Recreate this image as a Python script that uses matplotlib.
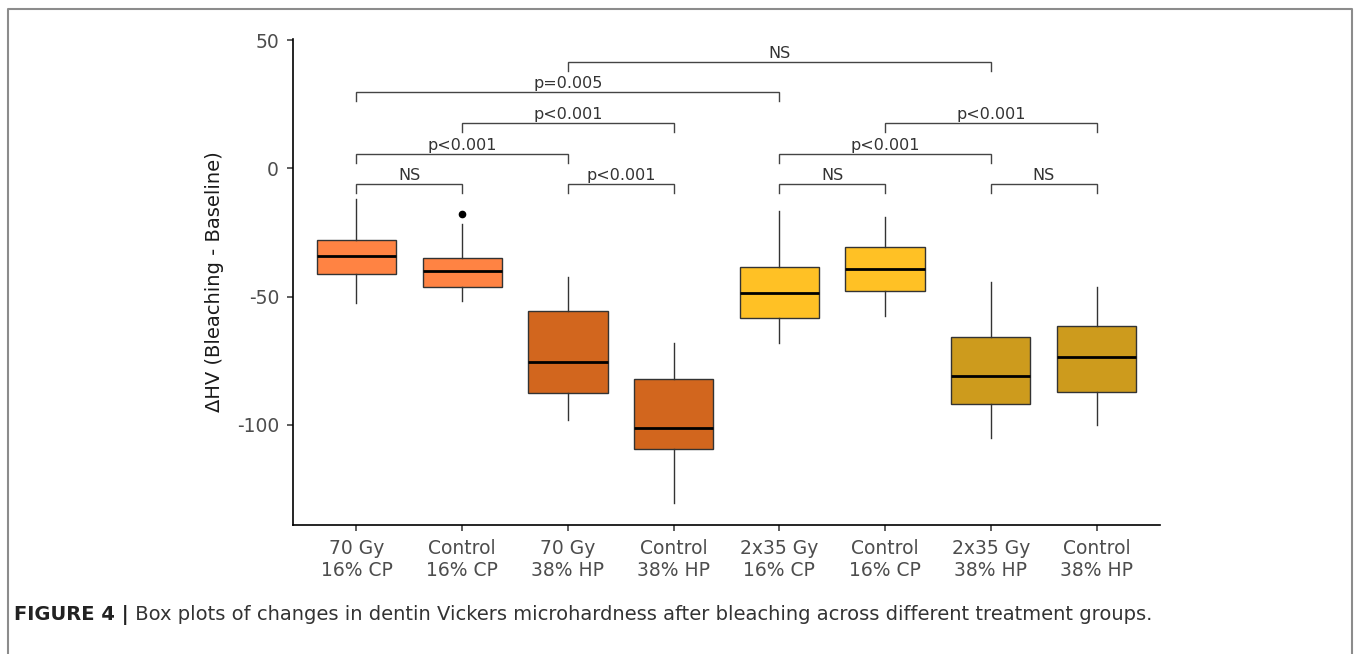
import matplotlib
matplotlib.use("Agg")
import matplotlib.pyplot as plt
from matplotlib.lines import Line2D

# group labels and box colours
groups = ["70 Gy\n16% CP", "Control\n16% CP", "70 Gy\n38% HP", "Control\n38% HP",
          "2x35 Gy\n16% CP", "Control\n16% CP", "2x35 Gy\n38% HP", "Control\n38% HP"]
colors = ["#FF8343", "#D2661E", "#FFC125", "#CD9B1D"]
box_colors = [colors[0], colors[0], colors[1], colors[1], colors[2], colors[2], colors[3], colors[3]]

# five-number summaries
whis_hi = [-12.1, -21.8, -42.5, -68.2, -16.8, -19.1, -44.4, -46.4]
q3 = [-28.0, -35.0, -55.7, -82.2, -38.6, -30.8, -65.9, -61.6]
median = [-34.0, -40.1, -75.6, -101.3, -48.7, -39.4, -81.1, -73.6]
q1 = [-41.3, -46.4, -87.7, -109.5, -58.5, -47.9, -92.0, -87.3]
whis_lo = [-52.6, -51.8, -98.2, -130.6, -68.2, -57.7, -105.2, -100.2]
outliers = [[], [-17.9], [], [], [], [], [], []]

# significance brackets: (left group, right group, level, label)
br_left = [1, 3, 5, 7, 1, 5, 2, 6, 1, 3]
br_right = [2, 4, 6, 8, 3, 7, 4, 8, 5, 7]
br_level = [-6.2, -6.2, -6.2, -6.2, 5.5, 5.5, 17.5, 17.5, 29.6, 41.3]
br_text = ["NS", "p<0.001", "NS", "NS", "p<0.001", "p<0.001", "p<0.001", "p<0.001", "p=0.005", "NS"]

caption_bold = "FIGURE 4 |"
caption_rest = " Box plots of changes in dentin Vickers microhardness after bleaching across different treatment groups."

plt.rcParams['font.family'] = ['DejaVu Sans']

fig = plt.figure(figsize=(13.57, 6.54), dpi=100)
ax = fig.add_axes([293 / 1357, 1 - 525 / 654, 867 / 1357, 486 / 654])

stats = []
for i in range(len(groups)):
    stats.append(dict(med=median[i], q1=q1[i], q3=q3[i], whislo=whis_lo[i],
                      whishi=whis_hi[i], fliers=outliers[i]))

pos = list(range(1, len(groups) + 1))
bp = ax.bxp(stats, positions=pos, widths=0.75, patch_artist=True, showcaps=False,
            boxprops=dict(edgecolor="#333333", linewidth=1.0),
            whiskerprops=dict(color="#333333", linewidth=1.0),
            medianprops=dict(color="black", linewidth=2.0),
            flierprops=dict(marker="o", markerfacecolor="black", markeredgecolor="black",
                            markersize=4.5))
for patch, c in zip(bp["boxes"], box_colors):
    patch.set_facecolor(c)

# brackets
tick_drop = 3.5
for l, r, y, t in zip(br_left, br_right, br_level, br_text):
    ax.plot([l, l, r, r], [y - tick_drop, y, y, y - tick_drop], color="#444444",
            linewidth=1.0, solid_joinstyle="miter")
    ax.text((l + r) / 2, y + 0.6, t, ha="center", va="bottom", fontsize=11.5, color="#333333")

ax.set_xlim(0.4, 8.6)
ax.set_ylim(-139, 50.4)
ax.set_yticks([50, 0, -50, -100])
ax.set_yticklabels(["50", "0", "-50", "-100"])
ax.set_xticks(pos)
ax.set_xticklabels(groups)
ax.spines["top"].set_visible(False)
ax.spines["right"].set_visible(False)
for s in ["left", "bottom"]:
    ax.spines[s].set_linewidth(1.2)
    ax.spines[s].set_color("black")
ax.tick_params(axis="both", length=4, width=1.1, color="#333333", labelcolor="#4D4D4D",
               labelsize=13.5)
ax.tick_params(axis="y", pad=6)
ax.tick_params(axis="x", pad=6)
ax.set_ylabel("\u0394HV (Bleaching - Baseline)", fontsize=14, color="#1a1a1a", labelpad=9)

# frame around the figure panel (open at the bottom)
frame_c = "#8c8c8c"
x0, x1, y0 = 8 / 1357, 1352 / 1357, 1 - 9 / 654
fig.add_artist(Line2D([x0, x0, x1, x1], [0, y0, y0, 0], transform=fig.transFigure,
                      color=frame_c, linewidth=1.5))

# caption, sized so it runs to about x=1150 like the original
cap_y = 1 - 615 / 654
fs = 12
t1 = fig.text(14 / 1357, cap_y, caption_bold, fontsize=fs, fontweight="bold",
              color="#222222", va="center", ha="left")
t2 = fig.text(0, cap_y, caption_rest, fontsize=fs, color="#333333", va="center", ha="left")
fig.canvas.draw()
r = fig.canvas.get_renderer()
w = t1.get_window_extent(r).width + t2.get_window_extent(r).width
fs = fs * (1150 - 14) / w
t1.set_fontsize(fs)
t2.set_fontsize(fs)
fig.canvas.draw()
t2.set_x(t1.get_window_extent(r).x1 / 1357)

fig.savefig("out.png", dpi=100)
